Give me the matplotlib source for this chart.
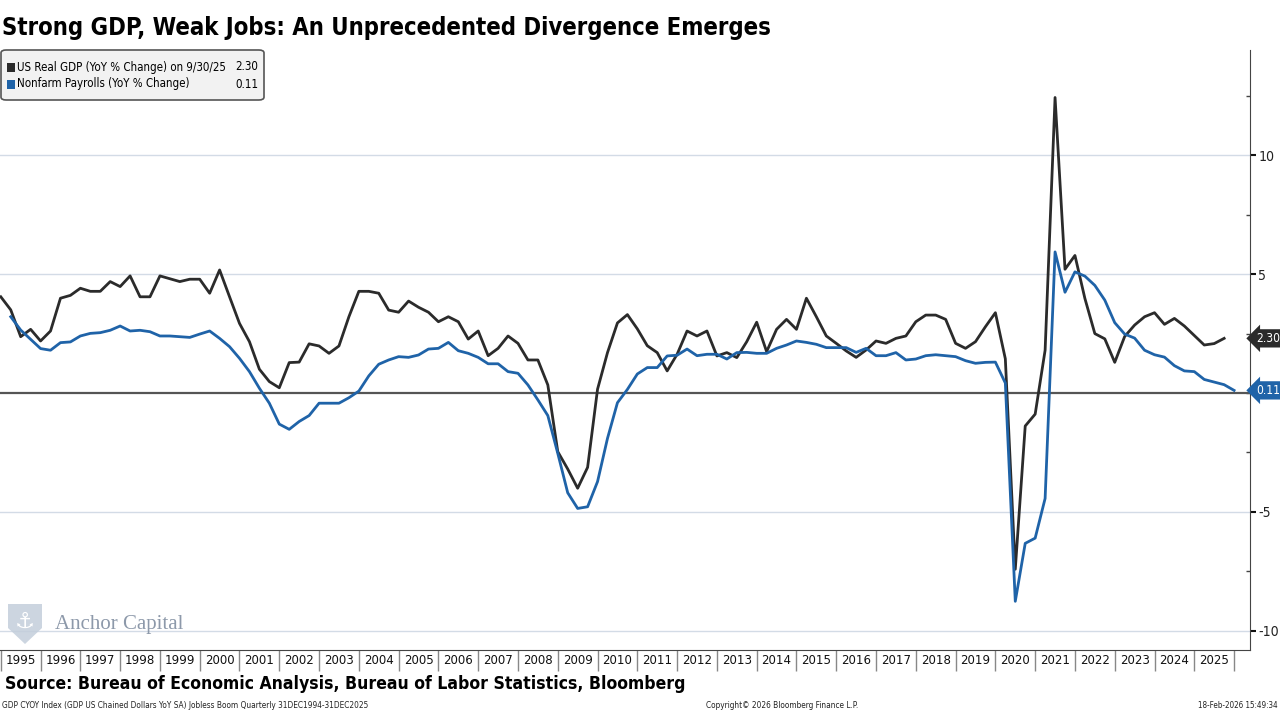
import numpy as np
import matplotlib
matplotlib.use('Agg')
import matplotlib.pyplot as plt
from matplotlib.patches import FancyBboxPatch, Polygon
from matplotlib import font_manager
from matplotlib.font_manager import FontProperties

# quarterly values, Q4 1994 .. Q4 2025 (YoY % change)
gdp = [4.05, 3.5, 2.37, 2.68, 2.19, 2.61, 3.99, 4.11, 4.41, 4.28,
       4.28, 4.69, 4.48, 4.93, 4.05, 4.05, 4.93, 4.81, 4.69, 4.79,
       4.79, 4.2, 5.18, 4.05, 2.93, 2.16, 1.0, 0.48, 0.22, 1.28,
       1.3, 2.07, 1.98, 1.67, 1.98, 3.21, 4.28, 4.28, 4.2, 3.49,
       3.4, 3.87, 3.61, 3.4, 3.0, 3.21, 3.0, 2.27, 2.61, 1.57,
       1.88, 2.4, 2.09, 1.39, 1.39, 0.34, -2.47, -3.2, -4.01, -3.13,
       0.16, 1.7, 2.95, 3.3, 2.7, 1.99, 1.7, 0.93, 1.63, 2.61,
       2.4, 2.61, 1.56, 1.7, 1.49, 2.16, 2.98, 1.74, 2.68, 3.1,
       2.68, 3.99, 3.21, 2.4, 2.09, 1.77, 1.5, 1.81, 2.19, 2.09,
       2.3, 2.4, 3.0, 3.28, 3.28, 3.1, 2.09, 1.88, 2.16, 2.79,
       3.38, 1.44, -7.42, -1.39, -0.89, 1.8, 12.44, 5.21, 5.79, 3.98,
       2.5, 2.28, 1.29, 2.38, 2.86, 3.21, 3.38, 2.89, 3.14, 2.82,
       2.42, 2.02, 2.08, 2.30, np.nan]

payrolls = [np.nan, 3.21, 2.65, 2.26, 1.87, 1.8, 2.12, 2.15, 2.4, 2.51,
            2.54, 2.64, 2.82, 2.61, 2.64, 2.58, 2.4, 2.4, 2.37, 2.34,
            2.48, 2.61, 2.3, 1.95, 1.46, 0.9, 0.2, -0.43, -1.31, -1.53,
            -1.2, -0.95, -0.43, -0.43, -0.43, -0.2, 0.08, 0.72, 1.21, 1.39,
            1.53, 1.5, 1.6, 1.85, 1.88, 2.13, 1.78, 1.67, 1.5, 1.23,
            1.23, 0.9, 0.83, 0.34, -0.29, -0.95, -2.54, -4.2, -4.86, -4.79,
            -3.73, -1.91, -0.41, 0.15, 0.8, 1.07, 1.07, 1.56, 1.59, 1.85,
            1.57, 1.63, 1.63, 1.43, 1.7, 1.71, 1.67, 1.67, 1.88, 2.02,
            2.19, 2.13, 2.05, 1.91, 1.91, 1.91, 1.71, 1.88, 1.57, 1.57,
            1.7, 1.39, 1.43, 1.57, 1.61, 1.57, 1.53, 1.36, 1.25, 1.29,
            1.3, 0.42, -8.77, -6.33, -6.11, -4.44, 5.94, 4.24, 5.1, 4.92,
            4.53, 3.91, 2.96, 2.48, 2.31, 1.8, 1.61, 1.51, 1.15, 0.93,
            0.9, 0.57, 0.46, 0.35, 0.11]

years = list(range(1995, 2026))
gdp_last = 2.30
pay_last = 0.11

# time axis: quarter-end dates as decimal years (12/31/1994 -> 1995.0)
t = 1995 + 0.25 * np.arange(len(gdp))


# pick a narrow font if one is installed
def find_narrow():
    cond = ('condensed', 'semi-condensed', 'extra-condensed', 'ultra-condensed')
    prefs = ['Liberation Sans Narrow', 'DejaVu Sans', 'Roboto Condensed', 'Roboto',
             'Open Sans', 'Noto Sans', 'Liberation Sans']
    for name in prefs:
        reg, bold = None, None
        for f in font_manager.fontManager.ttflist:
            if f.name != name or f.style != 'normal':
                continue
            narrow = f.stretch in cond or 'Narrow' in name or 'Condensed' in name
            if not narrow:
                continue
            w = f.weight if isinstance(f.weight, int) else (700 if f.weight == 'bold' else 400)
            if w == 400 and reg is None:
                reg = f.fname
            if w == 700 and bold is None:
                bold = f.fname
        if reg and bold:
            return FontProperties(fname=reg), FontProperties(fname=bold)
    return FontProperties(family='Liberation Sans'), FontProperties(family='Liberation Sans', weight='bold')


fp_reg, fp_bold = find_narrow()
plt.rcParams['axes.unicode_minus'] = False

fig = plt.figure(figsize=(12.8, 7.2), dpi=100)
ax = fig.add_axes([0.0, 1 - 650 / 720, 1250 / 1280, 600 / 720])
renderer = fig.canvas.get_renderer()


def fx(px):
    return px / 1280


def fy(py):
    return 1 - py / 720


def size_for(s, width, fp):
    probe = fig.text(0, 0, s, fontproperties=fp.copy())
    probe.set_fontsize(12)
    w = probe.get_window_extent(renderer).width
    probe.remove()
    return 12 * width / w


def fit_text(x, y, s, width, fp, **kw):
    return fig.text(fx(x), fy(y), s, fontproperties=fp.copy(),
                    fontsize=size_for(s, width, fp), **kw)


gdp_col = '#2b2b2b'
pay_col = '#1f63a8'

for y in [10, 5, -5, -10]:
    ax.axhline(y, color='#d3dbe6', lw=1.0, zorder=1)
ax.axhline(0, color='#555555', lw=1.6, zorder=2)

ax.plot(t, gdp, color=gdp_col, lw=2.0, zorder=3)
ax.plot(t, payrolls, color=pay_col, lw=2.0, zorder=4)

ax.set_xlim(1994.98, 2026.4)
ax.set_ylim(-10.82, 14.44)

for s in ['top', 'left']:
    ax.spines[s].set_visible(False)
ax.spines['right'].set_color('#444444')
ax.spines['bottom'].set_color('#444444')

# y axis on the right
ax.yaxis.tick_right()
ax.set_yticks([10, 5, -5, -10])
ax.set_yticks(np.arange(-10, 14.5, 2.5), minor=True)
ax.tick_params(axis='y', which='major', direction='out', length=4, width=1.5,
               color='#111111', pad=2, labelcolor='#222222')
ax.tick_params(axis='y', which='minor', direction='in', length=3, width=1, color='#444444')

# x axis: year boxes
ax.set_xticks(years + [2026])
ax.set_xticklabels([])
ax.set_xticks([y + 0.5 for y in years], minor=True)
ax.set_xticklabels([str(y) for y in years], minor=True)
ax.tick_params(axis='x', which='major', direction='out', length=15, width=1, color='#888888')
ax.tick_params(axis='x', which='minor', length=0, pad=3, labelcolor='#111111')

xsize = size_for('1995', 30, fp_reg)
ysize = size_for('10', 16, fp_reg)
tagsize = size_for('2.30', 24, fp_reg)

for lab in ax.get_xticklabels(minor=True):
    lab.set_fontproperties(fp_reg.copy())
    lab.set_fontsize(xsize)
for lab in ax.get_yticklabels():
    lab.set_fontproperties(fp_reg.copy())
    lab.set_fontsize(ysize)

# last-value tags
for val, col in [(gdp_last, gdp_col), (pay_last, pay_col)]:
    ax.annotate(f'{val:.2f}', xy=(1.0, val), xycoords=('axes fraction', 'data'),
                xytext=(4.5, 0), textcoords='offset points', ha='left', va='center',
                color='white', annotation_clip=False, fontproperties=fp_reg.copy(),
                fontsize=tagsize,
                bbox=dict(boxstyle='larrow,pad=0.22', fc=col, ec='none'))

# title
fit_text(2, 28, 'Strong GDP, Weak Jobs: An Unprecedented Divergence Emerges', 768, fp_bold,
         va='center', ha='left', color='black')

# legend box
box = FancyBboxPatch((fx(1), fy(100)), fx(263), 50 / 720, transform=fig.transFigure,
                     boxstyle='round,pad=0,rounding_size=0.004', fc='#f2f2f2',
                     ec='#555555', lw=1.2, zorder=10)
fig.patches.append(box)
lsize = size_for('US Real GDP (YoY % Change) on 9/30/25', 210, fp_reg)
for row_y, col, label, val in [(67, gdp_col, 'US Real GDP (YoY % Change) on 9/30/25', gdp_last),
                               (84, pay_col, 'Nonfarm Payrolls (YoY % Change)', pay_last)]:
    fig.patches.append(plt.Rectangle((fx(7), fy(row_y + 4.5)), fx(8), 9 / 720,
                                     transform=fig.transFigure, fc=col, ec='none', zorder=11))
    fig.text(fx(17), fy(row_y), label, fontproperties=fp_reg.copy(), fontsize=lsize,
             va='center', ha='left', zorder=12)
    fig.text(fx(258), fy(row_y), f'{val:.2f}', fontproperties=fp_reg.copy(), fontsize=lsize,
             va='center', ha='right', zorder=12)

# watermark logo
shield = Polygon([[fx(8), fy(604)], [fx(42), fy(604)], [fx(42), fy(628)],
                  [fx(25), fy(644)], [fx(8), fy(628)]], closed=True,
                 transform=fig.transFigure, fc='#c3cedb', ec='none', alpha=0.85, zorder=5)
fig.patches.append(shield)
fig.text(fx(25), fy(622), '\u2693', fontsize=16, color='white', ha='center', va='center',
         family=['DejaVu Sans'], zorder=6)
fig.text(fx(55), fy(624), 'Anchor Capital', fontsize=15, color='#8d99aa', ha='left',
         va='center', family=['Liberation Serif', 'DejaVu Serif'], zorder=6)

# footer
fit_text(5, 684, 'Source: Bureau of Economic Analysis, Bureau of Labor Statistics, Bloomberg',
         680, fp_bold, va='center', ha='left')
fit_text(2, 705, 'GDP CYOY Index (GDP US Chained Dollars YoY SA) Jobless Boom Quarterly 31DEC1994-31DEC2025',
         365, fp_reg, va='center', ha='left', color='#222222')
fit_text(706, 705, 'Copyright\u00a9 2026 Bloomberg Finance L.P.',
         152, fp_reg, va='center', ha='left', color='#222222')
fit_text(1278, 705, '18-Feb-2026 15:49:34',
         80, fp_reg, va='center', ha='right', color='#222222')

fig.savefig('out.png', dpi=100)
